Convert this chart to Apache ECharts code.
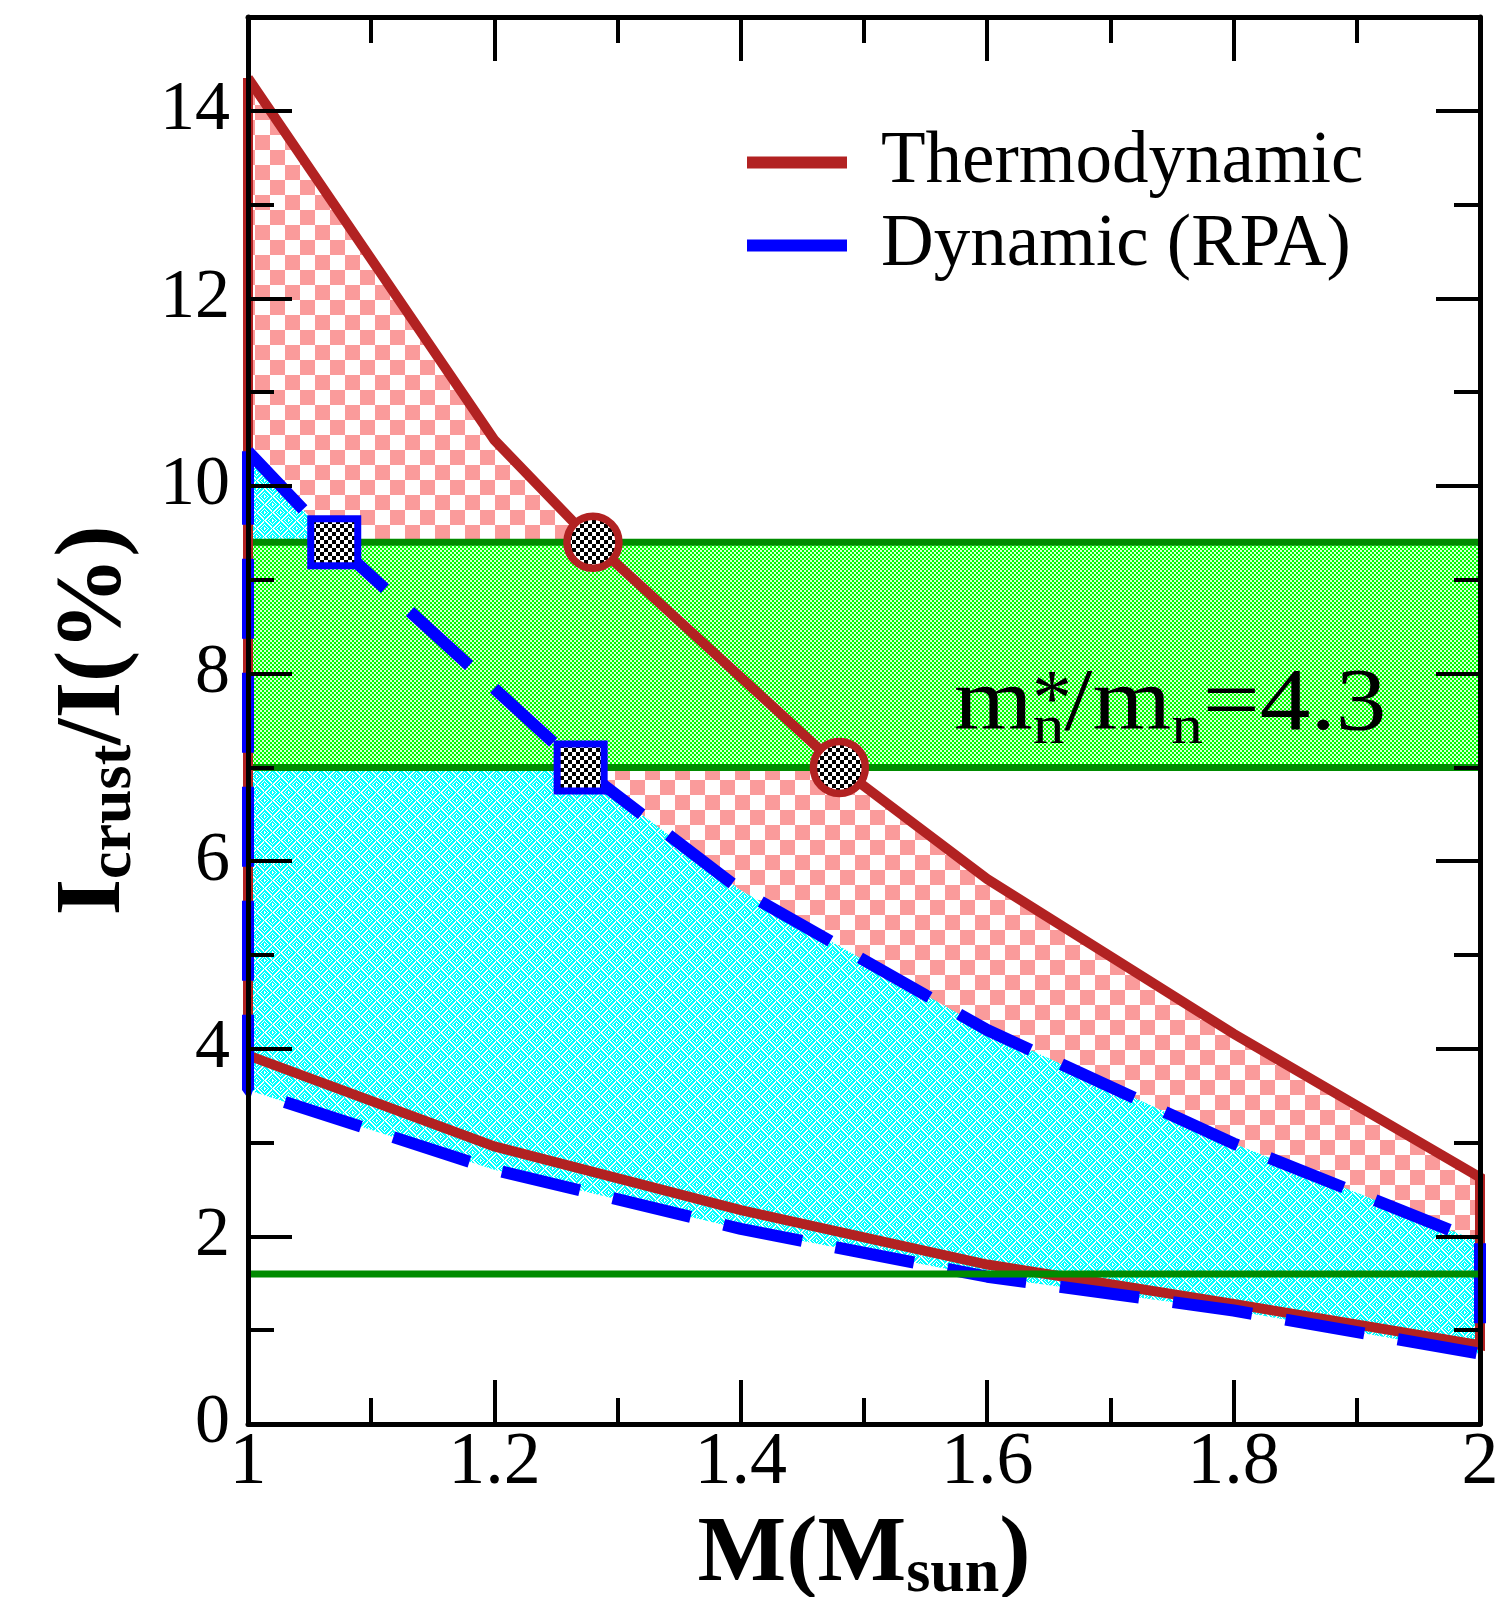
<!DOCTYPE html>
<html><head><meta charset="utf-8">
<script src="https://cdn.jsdelivr.net/npm/echarts@6/dist/echarts.min.js"></script>
<style>html,body{margin:0;padding:0;background:#fff}#c{width:1503px;height:1597px}</style>
</head><body><div id="c"></div>
<script>
// ---------------- data ----------------
const thermoUpperX = [1.0, 1.2, 1.28, 1.48, 1.6, 1.8, 2.0];
const thermoUpperY = [14.35, 10.49, 9.4, 7.0, 5.81, 4.16, 2.63];
const thermoLowerX = [1.0, 1.2, 1.4, 1.6, 1.8, 2.0];
const thermoLowerY = [3.93, 2.96, 2.28, 1.70, 1.28, 0.84];
const rpaUpperX = [1.0, 1.07, 1.27, 1.4, 1.6, 1.8, 2.0];
const rpaUpperY = [10.37, 9.4, 7.0, 5.69, 4.20, 2.99, 1.94];
const rpaLowerX = [1.0, 1.2, 1.4, 1.6, 1.8, 2.0];
const rpaLowerY = [3.56, 2.71, 2.08, 1.57, 1.21, 0.75];
const bandLow = 7.0, bandHigh = 9.4;
const refLevel = 1.6;
const thermoCross = [[1.28, 9.4], [1.48, 7.0]];
const rpaCross = [[1.07, 9.4], [1.27, 7.0]];
const seriesNames = ['Thermodynamic', 'Dynamic (RPA)'];
const annotationText = 'm{s|n}/m{s|n}=4.3';

// ---------------- helpers ----------------
const FONT = "'Liberation Serif','Times New Roman',Times,serif";
const RED = '#b22222', BLUE = '#0000ff', DKGREEN = '#008b00';
function pts(xs, ys) { return xs.map((x, i) => [x, ys[i]]); }
function makePattern(size, pix) {
  const c = document.createElement('canvas'); c.width = size; c.height = size;
  const g = c.getContext('2d');
  const img = g.createImageData(size, size);
  for (let j = 0; j < size; j++) for (let i = 0; i < size; i++) {
    const col = pix(i, j); const k = (j * size + i) * 4;
    img.data[k] = col[0]; img.data[k + 1] = col[1]; img.data[k + 2] = col[2]; img.data[k + 3] = 255;
  }
  g.putImageData(img, 0, 0);
  return { image: c, repeat: 'repeat' };
}
const WHITE = [255, 255, 255];
const redChecker = makePattern(30, (i, j) => (((i / 15 | 0) + (j / 15 | 0)) & 1) ? WHITE : [250, 155, 155]);
const greenChecker = makePattern(4, (i, j) => (((i / 2 | 0) + (j / 2 | 0)) & 1) ? [215, 255, 215] : [0, 255, 0]);
const markChecker = makePattern(8, (i, j) => (((i / 4 | 0) + (j / 4 | 0)) & 1) ? WHITE : [0, 0, 0]);
const cyanWeave = makePattern(16, (i, j) => {
  const block = ((i / 8 | 0) + (j / 8 | 0)) & 1;
  const v = block ? (i + j) % 8 : (i - j + 64) % 8;
  return (v === 0 || v === 1 || v === 4) ? WHITE : [0, 255, 255];
});

const tUp = pts(thermoUpperX, thermoUpperY), tLo = pts(thermoLowerX, thermoLowerY);
const rUp = pts(rpaUpperX, rpaUpperY), rLo = pts(rpaLowerX, rpaLowerY);
const tLoop = tUp.concat(tLo.slice().reverse(), [tUp[0]]);
const rLoop = rUp.concat(rLo.slice().reverse(), [rUp[0]]);

function fillSeries(upper, lower, fill, z) {
  return {
    type: 'custom', coordinateSystem: 'cartesian2d', silent: true, z: z,
    data: [[1, 0]], animation: false,
    renderItem: function (params, api) {
      const poly = upper.concat(lower.slice().reverse()).map(p => api.coord(p));
      return { type: 'polygon', shape: { points: poly }, style: { fill: fill, stroke: null } };
    }
  };
}
function markerSeries(data, kind, stroke, z) {
  return {
    type: 'custom', coordinateSystem: 'cartesian2d', silent: true, z: z,
    data: data, encode: { x: 0, y: 1 }, animation: false,
    renderItem: function (params, api) {
      const c = api.coord([api.value(0), api.value(1)]);
      if (kind === 'circle') {
        return { type: 'circle', shape: { cx: c[0], cy: c[1], r: 26 },
          style: { fill: markChecker, stroke: stroke, lineWidth: 7.5 } };
      }
      return { type: 'rect', shape: { x: c[0] - 23.5, y: c[1] - 23.5, width: 47, height: 47 },
        style: { fill: markChecker, stroke: stroke, lineWidth: 7 } };
    }
  };
}
function hLine(y, z) {
  return {
    type: 'line', data: [[1, y], [2, y]], symbol: 'none', silent: true, z: z, clip: false,
    lineStyle: { color: DKGREEN, width: 7 }, animation: false
  };
}

const tickStyle = { color: '#000', width: 4 };
const baseAxis = {
  type: 'value', z: 20, splitLine: { show: false },
  axisLine: { show: true, onZero: false, lineStyle: { color: '#000', width: 5 } }
};

const option = {
  backgroundColor: '#fff',
  animation: false,
  grid: { left: 248, right: 23, top: 17, bottom: 173, outerBoundsMode: 'none', containLabel: false },
  legend: {
    show: true, orient: 'vertical', left: 747, top: 121, padding: 0, itemGap: 0,
    itemWidth: 100, itemHeight: 12, selectedMode: false, icon: 'rect',
    itemStyle: { borderWidth: 0 },
    lineStyle: { type: 'solid' },
    data: seriesNames,
    textStyle: { fontFamily: FONT, fontSize: 73, color: '#000', lineHeight: 69, padding: [0, 0, 14, 29] }
  },
  xAxis: [
    Object.assign({}, baseAxis, {
      position: 'bottom', min: 1, max: 2, interval: 0.2,
      axisTick: { show: true, inside: true, length: 44, lineStyle: tickStyle },
      minorTick: { show: true, splitNumber: 2, length: 26, lineStyle: tickStyle },
      axisLabel: { show: true, margin: 3, fontFamily: FONT, fontSize: 74, color: '#000' },
      name: 'M(M{t|sun})', nameLocation: 'middle', nameGap: 82, nameMoveOverlap: false,
      nameTextStyle: {
        fontFamily: FONT, fontSize: 94, fontWeight: 'bold', color: '#000', lineHeight: 100,
        rich: { t: { fontFamily: FONT, fontSize: 62, fontWeight: 'bold', color: '#000', verticalAlign: 'bottom', lineHeight: 56 } }
      }
    }),
    Object.assign({}, baseAxis, {
      position: 'top', min: 1, max: 2, interval: 0.2,
      axisTick: { show: true, inside: true, length: 44, lineStyle: tickStyle },
      minorTick: { show: true, splitNumber: 2, length: 26, lineStyle: tickStyle },
      axisLabel: { show: false }
    })
  ],
  yAxis: [
    Object.assign({}, baseAxis, {
      position: 'left', min: 0, max: 15, interval: 2,
      axisTick: { show: true, inside: true, length: 44, lineStyle: tickStyle },
      axisLabel: {
        show: true, margin: 18, fontFamily: FONT, fontSize: 70, color: '#000',
        formatter: v => (v % 2 === 0 && v <= 14 ? String(v) : '')
      },
      name: 'I{s|crust}/I(%)', nameLocation: 'middle', nameGap: 103, nameMoveOverlap: false,
      nameTextStyle: {
        fontFamily: FONT, fontSize: 94, fontWeight: 'bold', color: '#000', lineHeight: 100,
        rich: { s: { fontFamily: FONT, fontSize: 62, fontWeight: 'bold', color: '#000', verticalAlign: 'bottom', lineHeight: 39 } }
      }
    }),
    Object.assign({}, baseAxis, {
      position: 'left', min: 0, max: 15, interval: 1, axisLine: { show: false },
      axisTick: { show: true, inside: true, length: 26, lineStyle: tickStyle },
      axisLabel: { show: false }
    }),
    Object.assign({}, baseAxis, {
      position: 'right', min: 0, max: 15, interval: 2,
      axisTick: { show: true, inside: true, length: 44, lineStyle: tickStyle },
      axisLabel: { show: false }
    }),
    Object.assign({}, baseAxis, {
      position: 'right', min: 0, max: 15, interval: 1, axisLine: { show: false },
      axisTick: { show: true, inside: true, length: 26, lineStyle: tickStyle },
      axisLabel: { show: false }
    })
  ],
  series: [
    fillSeries(tUp, tLo, redChecker, 1),
    fillSeries(rUp, rLo, cyanWeave, 2),
    fillSeries([[1, bandHigh], [2, bandHigh]], [[1, bandLow], [2, bandLow]], greenChecker, 3),
    hLine(bandHigh, 4),
    hLine(bandLow, 4),
    {
      type: 'line', name: seriesNames[0], data: tLoop, symbol: 'none', showSymbol: false, clip: false,
      silent: true, z: 5, color: RED,
      lineStyle: { color: RED, width: 10, join: 'miter' }, itemStyle: { color: RED }
    },
    {
      type: 'line', name: seriesNames[1], data: rLoop, symbol: 'none', showSymbol: false, clip: false,
      silent: true, z: 6, color: BLUE,
      lineStyle: { color: BLUE, width: 12, type: [80, 34], cap: 'butt' }, itemStyle: { color: BLUE }
    },
    hLine(refLevel, 7),
    markerSeries(thermoCross, 'circle', RED, 8),
    markerSeries(rpaCross, 'rect', BLUE, 8)
  ],
  graphic: [
    {
      type: 'text', x: 954, y: 656, scaleX: 1.15, z: 30, silent: true,
      style: {
        text: annotationText, fontFamily: FONT, fontSize: 88, fill: '#000',
        align: 'left', verticalAlign: 'top', lineHeight: 100,
        rich: { s: { fontFamily: FONT, fontSize: 55, fill: '#000', verticalAlign: 'bottom', lineHeight: 54 } }
      }
    },
    {
      type: 'text', x: 1052, y: 664, z: 30, silent: true,
      style: { text: '*', fontFamily: FONT, fontSize: 80, fill: '#000', align: 'center', verticalAlign: 'top' }
    }
  ]
};

const chart = echarts.init(document.getElementById('c'), null, { renderer: 'canvas' });
chart.setOption(option);
</script>
</body></html>
